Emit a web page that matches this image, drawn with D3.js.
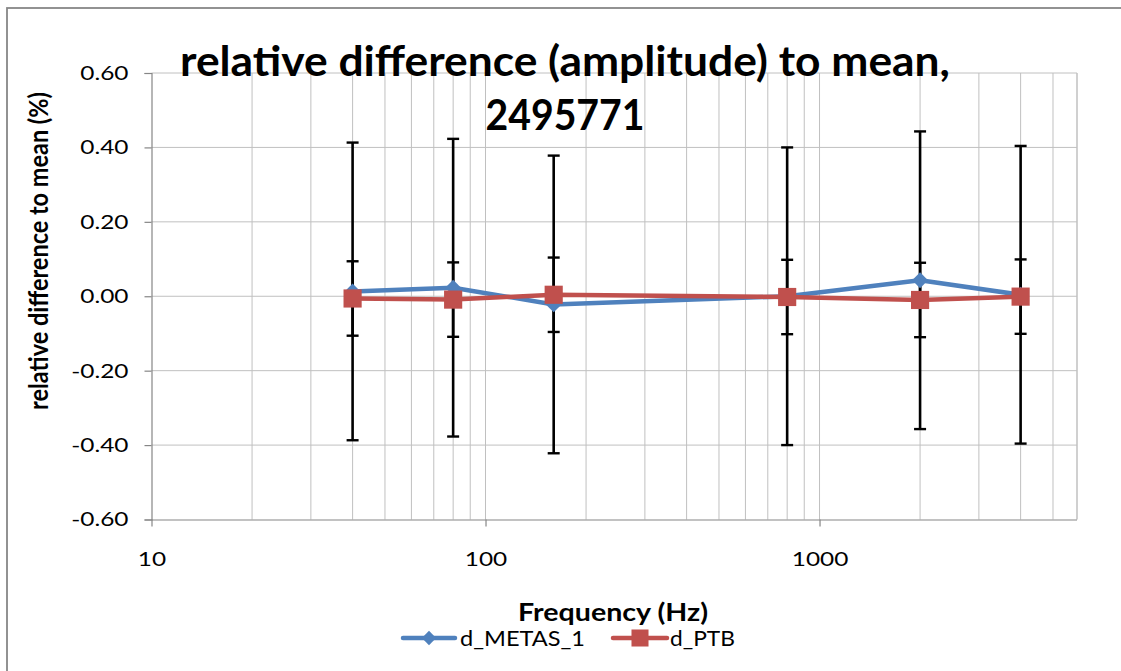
<!DOCTYPE html>
<html>
<head>
<meta charset="utf-8">
<script src="https://cdn.jsdelivr.net/npm/d3@7"></script>
<style>
  html, body { margin: 0; padding: 0; background: #fff; }
  svg { display: block; }
  text { font-family: Lato, "Open Sans", sans-serif; fill: #000; }
</style>
</head>
<body>
<svg id="chart" width="1121" height="671"></svg>
<script>
// ---- data ----
const frequencies = [40, 80, 160, 800, 2000, 4000];
const metasValues = [0.013, 0.023, -0.022, 0.000, 0.043, 0.004];
const ptbValues   = [-0.006, -0.009, 0.004, -0.002, -0.010, -0.001];
const metasErrors = [0.40, 0.40, 0.40, 0.40, 0.40, 0.40];
const ptbErrors   = [0.10, 0.10, 0.10, 0.10, 0.10, 0.10];
const yTicks = [-0.6, -0.4, -0.2, 0.0, 0.2, 0.4, 0.6];
const yTickLabels = ["-0.60", "-0.40", "-0.20", "0.00", "0.20", "0.40", "0.60"];
const xMajorTicks = [10, 100, 1000];
const xTickLabels = ["10", "100", "1000"];
const seriesNames = ["d_METAS_1", "d_PTB"];
const titleLines = ["relative difference (amplitude) to mean,", "2495771"];
const xTitle = "Frequency (Hz)";
const yTitle = "relative difference to mean (%)";

// ---- layout ----
const svg = d3.select("#chart");
const plot = { left: 151.5, right: 1077, top: 73, bottom: 519.5 };
const x = d3.scaleLog().domain([10, 5900]).range([plot.left, plot.right]);
const y = d3.scaleLinear().domain([-0.6, 0.6]).range([plot.bottom, plot.top]);
const blue = "#4F81BD", red = "#C0504D", gridCol = "#C0C0C0", axisCol = "#868686";

// outer chart border
svg.append("rect").attr("x", 7).attr("y", 8).attr("width", 1130).attr("height", 700)
  .attr("fill", "#fff").attr("stroke", "#878787").attr("stroke-width", 1.8);

// minor/major vertical gridlines
const vgrid = [];
[10, 100, 1000].forEach(d => { for (let m = 1; m <= 9; m++) { const v = d * m; if (v > 10 && v < 5900) vgrid.push(v); } });
svg.append("g").selectAll("line").data(vgrid).join("line")
  .attr("x1", d => x(d)).attr("x2", d => x(d))
  .attr("y1", plot.top).attr("y2", plot.bottom)
  .attr("stroke", gridCol).attr("stroke-width", 1);
// right edge of plot area
svg.append("line").attr("x1", plot.right).attr("x2", plot.right)
  .attr("y1", plot.top).attr("y2", plot.bottom).attr("stroke", gridCol).attr("stroke-width", 1.5);
// horizontal gridlines
svg.append("g").selectAll("line").data(yTicks.filter(v => v > -0.6)).join("line")
  .attr("x1", plot.left).attr("x2", plot.right)
  .attr("y1", d => y(d)).attr("y2", d => y(d))
  .attr("stroke", gridCol).attr("stroke-width", 1);

// axes
const yAxis = d3.axisLeft(y).tickValues(yTicks).tickFormat((d, i) => yTickLabels[i]).tickSize(7).tickPadding(16);
const gy = svg.append("g").attr("transform", `translate(${plot.left},0)`).call(yAxis);
const xAxis = d3.axisBottom(x).tickValues(xMajorTicks).tickFormat((d, i) => xTickLabels[i]).tickSize(7).tickPadding(25);
const gx = svg.append("g").attr("transform", `translate(0,${plot.bottom})`).call(xAxis);
[gx, gy].forEach(g => {
  g.select(".domain").attr("stroke", axisCol).attr("stroke-width", 1.2);
  g.selectAll(".tick line").attr("stroke", axisCol).attr("stroke-width", 1.2);
  g.selectAll("text").attr("font-family", "Lato, sans-serif").attr("font-size", 20).attr("fill", "#000");
});
// horizontal stretch of tick labels to mimic the reference's wide digits
function stretch(sel, k) {
  sel.each(function() {
    const w = this.getComputedTextLength();
    d3.select(this).attr("textLength", w * k).attr("lengthAdjust", "spacingAndGlyphs");
  });
}
stretch(gy.selectAll("text"), 1.22);
stretch(gx.selectAll("text"), 1.22);
gx.select(".domain").attr("d", `M${plot.left},0.5H${plot.right}`);

// error bars
const errGroup = svg.append("g");
function drawErrors(vals, errs) {
  const cap = 6;
  frequencies.forEach((f, i) => {
    const cx = x(f), y0 = y(vals[i] - errs[i]), y1 = y(vals[i] + errs[i]);
    errGroup.append("line").attr("x1", cx).attr("x2", cx).attr("y1", y0).attr("y2", y1)
      .attr("stroke", "#000").attr("stroke-width", 2.6);
    [y0, y1].forEach(yy => errGroup.append("line").attr("x1", cx - cap).attr("x2", cx + cap)
      .attr("y1", yy).attr("y2", yy).attr("stroke", "#000").attr("stroke-width", 2.4));
  });
}
drawErrors(metasValues, metasErrors);
drawErrors(ptbValues, ptbErrors);

// series
const line = d3.line().x(d => x(d[0])).y(d => y(d[1]));
const metasPts = frequencies.map((f, i) => [f, metasValues[i]]);
const ptbPts = frequencies.map((f, i) => [f, ptbValues[i]]);
const diamond = d3.symbol().type(d3.symbolDiamond2).size(160);
const square = d3.symbol().type(d3.symbolSquare).size(330);

svg.append("path").attr("d", line(metasPts)).attr("fill", "none")
  .attr("stroke", blue).attr("stroke-width", 4.5).attr("stroke-linejoin", "round");
svg.append("g").selectAll("path").data(metasPts).join("path")
  .attr("transform", d => `translate(${x(d[0])},${y(d[1])})`)
  .attr("d", diamond).attr("fill", blue);
svg.append("path").attr("d", line(ptbPts)).attr("fill", "none")
  .attr("stroke", red).attr("stroke-width", 4.5).attr("stroke-linejoin", "round");
svg.append("g").selectAll("path").data(ptbPts).join("path")
  .attr("transform", d => `translate(${x(d[0])},${y(d[1])})`)
  .attr("d", square).attr("fill", red);

// title
svg.append("text").attr("x", 565).attr("y", 76).attr("text-anchor", "middle")
  .attr("font-size", 42).attr("font-weight", "bold")
  .attr("textLength", 770).attr("lengthAdjust", "spacingAndGlyphs").text(titleLines[0]);
svg.append("text").attr("x", 565).attr("y", 130).attr("text-anchor", "middle")
  .attr("font-size", 42).attr("font-weight", "bold")
  .attr("textLength", 159).attr("lengthAdjust", "spacingAndGlyphs").text(titleLines[1]);

// axis titles
svg.append("text").attr("transform", "translate(48,251) rotate(-90)").attr("text-anchor", "middle")
  .attr("font-size", 27).attr("font-weight", "bold")
  .attr("textLength", 318).attr("lengthAdjust", "spacingAndGlyphs").text(yTitle);
svg.append("text").attr("x", 613).attr("y", 621).attr("text-anchor", "middle")
  .attr("font-size", 25).attr("font-weight", "bold")
  .attr("textLength", 190).attr("lengthAdjust", "spacingAndGlyphs").text(xTitle);

// legend
const legY = 638;
const leg = [
  { x0: 403, x1: 455, tx: 460, tw: 125, color: blue, sym: d3.symbol().type(d3.symbolDiamond2).size(130) },
  { x0: 613, x1: 667, tx: 670, tw: 65, color: red, sym: d3.symbol().type(d3.symbolSquare).size(290) }
];
leg.forEach((L, i) => {
  svg.append("line").attr("x1", L.x0).attr("x2", L.x1).attr("y1", legY).attr("y2", legY)
    .attr("stroke", L.color).attr("stroke-width", 4.5).attr("stroke-linecap", "round");
  svg.append("path").attr("transform", `translate(${(L.x0 + L.x1) / 2},${legY})`).attr("d", L.sym).attr("fill", L.color);
  svg.append("text").attr("x", L.tx).attr("y", legY + 8).attr("font-size", 21)
    .attr("textLength", L.tw).attr("lengthAdjust", "spacingAndGlyphs").text(seriesNames[i]);
});
</script>
</body>
</html>
